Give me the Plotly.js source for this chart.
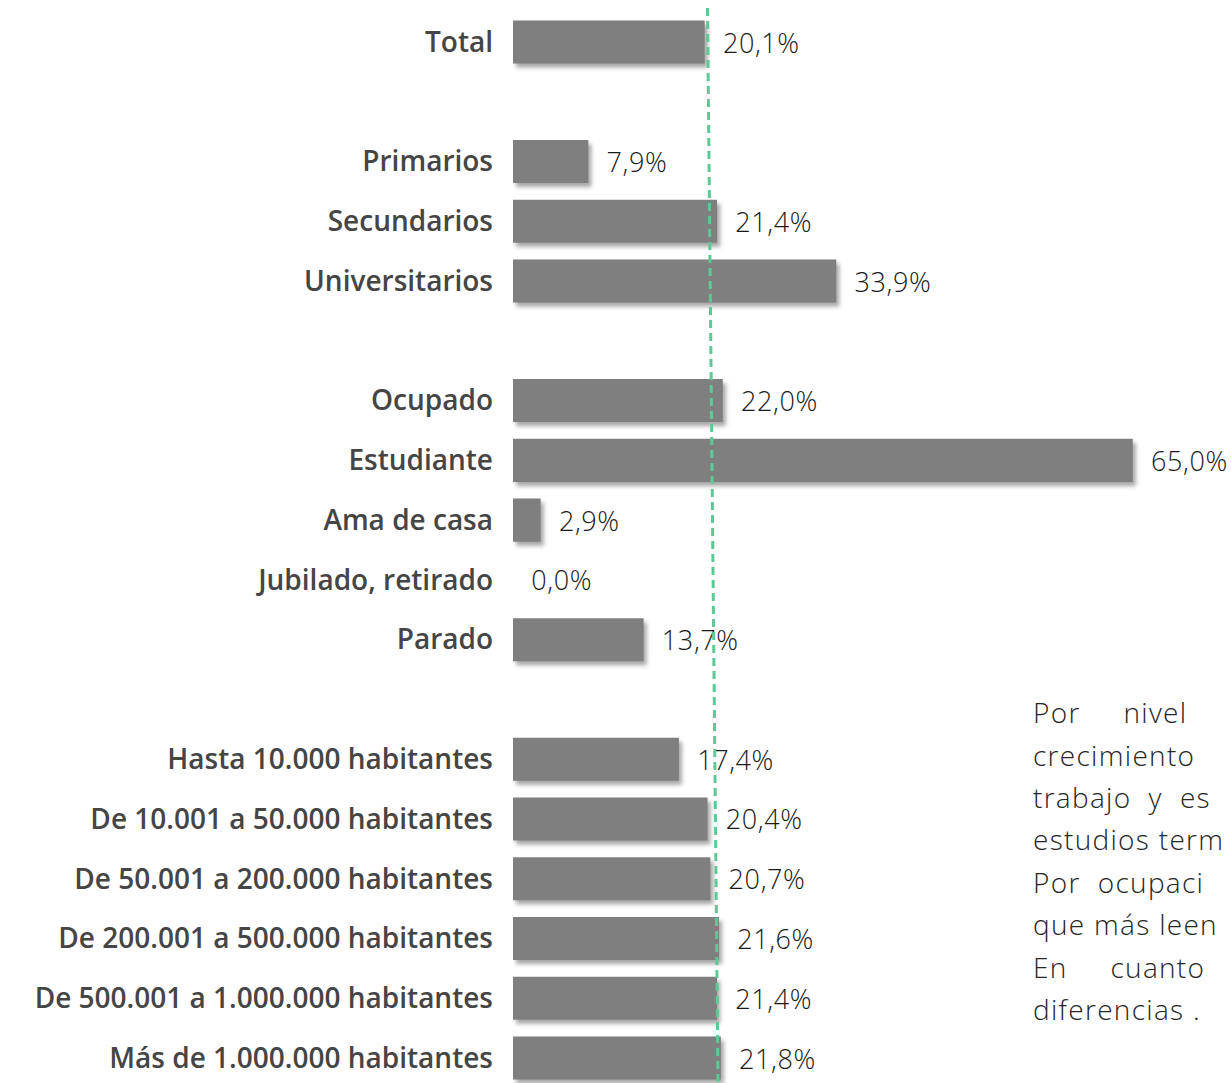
<!DOCTYPE html>
<html>
<head>
<meta charset="utf-8">
<script src="https://cdn.plot.ly/plotly-3.0.1.min.js"></script>
<style>
  html, body { margin: 0; padding: 0; background: #ffffff; }
  #chart { width: 1231px; height: 1083px; }
  .barlayer .point path { filter: drop-shadow(3px 4px 2px rgba(0,0,0,0.35)); }
  .annotation-text { letter-spacing: 1.3px; }
  .bartext { letter-spacing: 0.6px; }
</style>
</head>
<body>
<div id="chart"></div>
<script>
// Categories (blank entries are the gaps between groups)
const categorias = [
  "Total", " ",
  "Primarios", "Secundarios", "Universitarios", "  ",
  "Ocupado", "Estudiante", "Ama de casa", "Jubilado, retirado", "Parado", "   ",
  "Hasta 10.000 habitantes", "De 10.001 a 50.000 habitantes", "De 50.001 a 200.000 habitantes",
  "De 200.001 a 500.000 habitantes", "De 500.001 a 1.000.000 habitantes", "Más de 1.000.000 habitantes"
];
// Values (%), null for gaps
const valores = [
  20.1, null,
  7.9, 21.4, 33.9, null,
  22.0, 65.0, 2.9, 0.0, 13.7, null,
  17.4, 20.4, 20.7, 21.6, 21.4, 21.8
];
// Reference (average) dashed line, x at top and bottom as drawn
const lineaMedia = [20.4, 21.5];
// Side commentary lines (cut at the right edge in the original)
const comentario = [
  "Por\u00A0\u00A0\u00A0\u00A0\u00A0nivel",
  "crecimiento",
  "trabajo\u00A0 y\u00A0 es",
  "estudios term",
  "Por\u00A0 ocupaci",
  "que más leen",
  "En\u00A0\u00A0\u00A0\u00A0\u00A0cuanto",
  "diferencias ."
];
const comentarioY = [712, 755, 797, 839, 882, 924, 967, 1009];

const H = 1083;
const textos = valores.map(v => v === null ? "" : "\u00A0\u00A0" + v.toFixed(1).replace(".", ",") + "%");

const trace = {
  type: "bar",
  orientation: "h",
  y: categorias,
  x: valores,
  text: textos,
  textposition: "outside",
  cliponaxis: false,
  textfont: { family: "Open Sans", size: 27, color: "#1a1a1a", weight: 300 },
  marker: { color: "#7f7f7f", line: { width: 0 } },
  hoverinfo: "none"
};

const annotations = comentario.map((t, i) => ({
  xref: "paper", yref: "paper",
  x: (1031 - 513) / (1231 - 513), y: 1 - comentarioY[i] / H,
  xanchor: "left", yanchor: "middle",
  text: t, showarrow: false,
  font: { family: "Open Sans", size: 28, color: "#262626", weight: 300 }
}));

const layout = {
  width: 1231, height: H,
  margin: { l: 513, r: 0, t: 0, b: 0 },
  paper_bgcolor: "#ffffff", plot_bgcolor: "#ffffff",
  separators: ",.",
  showlegend: false,
  bargap: 0.28,
  xaxis: {
    range: [0, 75.3], visible: false, fixedrange: true
  },
  yaxis: {
    type: "category",
    range: [17.418, -0.703],
    showgrid: false, zeroline: false, showline: false,
    ticks: "", ticklabelstandoff: 19,
    tickfont: { family: "Open Sans", size: 28, color: "#454545", weight: 600 },
    fixedrange: true
  },
  shapes: [{
    type: "line", xref: "x", yref: "paper",
    x0: lineaMedia[0], x1: lineaMedia[1],
    y0: 1 - 8 / H, y1: 0,
    line: { color: "#5cc997", width: 3, dash: "8px,5px" },
    layer: "above"
  }],
  annotations: annotations
};

Plotly.newPlot("chart", [trace], layout, { staticPlot: true, displayModeBar: false });
</script>
</body>
</html>
